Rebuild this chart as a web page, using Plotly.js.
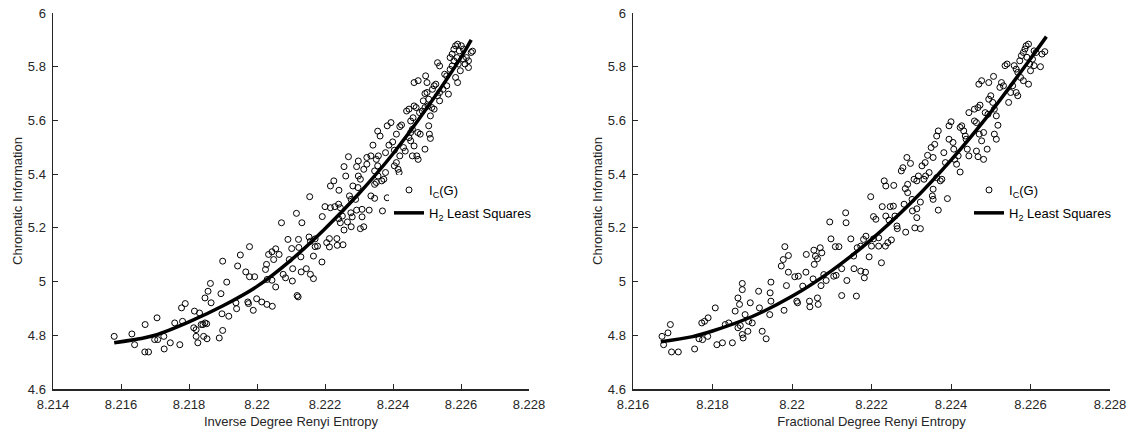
<!DOCTYPE html>
<html>
<head>
<meta charset="utf-8">
<script src="https://cdn.plot.ly/plotly-3.0.1.min.js"></script>
<style>
  html, body { margin: 0; padding: 0; background: #fff; }
  #chart { width: 1130px; height: 432px; }
</style>
</head>
<body>
<div id="chart"></div>
<script>
// ---- Data ----
// Left panel: [Inverse Degree Renyi Entropy, Chromatic Information]
const leftPoints = [
[8.2158,4.796],[8.21632,4.805],[8.2164,4.765],[8.21671,4.84],[8.2167,4.738],[8.21681,4.738],[8.21706,4.865],[8.21699,4.784],
[8.21708,4.784],[8.21726,4.796],[8.21727,4.749],[8.21745,4.772],[8.21758,4.846],[8.21773,4.765],[8.21778,4.902],[8.21789,4.918],
[8.21781,4.852],[8.21816,4.89],[8.21814,4.828],[8.21821,4.821],[8.21826,4.772],[8.21831,4.883],[8.21836,4.84],[8.21841,4.84],
[8.21847,4.846],[8.21852,4.843],[8.21821,4.796],[8.21843,4.796],[8.21853,4.787],[8.21847,4.939],[8.21856,4.964],[8.21863,4.993],
[8.21865,4.921],[8.21889,4.79],[8.21899,4.818],[8.21894,4.955],[8.21899,5.076],[8.21897,4.88],[8.21917,4.871],[8.21911,4.998],
[8.21938,4.921],[8.2194,4.899],[8.21943,5.058],[8.21951,5.099],[8.21967,5.036],[8.21978,5.018],[8.21993,5.018],[8.21978,5.13],
[8.21973,4.924],[8.21975,4.918],[8.21989,4.893],[8.21999,4.936],[8.22014,4.924],[8.22029,4.915],[8.22045,4.908],[8.22028,5.064],
[8.22034,5.101],[8.22044,5.111],[8.22055,5.122],[8.2203,5.008],[8.22044,5.005],[8.22055,4.98],[8.22049,5.082],[8.22065,5.101],
[8.22025,5.045],[8.22072,5.219],[8.22077,5.027],[8.22084,5.014],[8.22091,5.157],[8.22102,5.123],[8.22095,5.082],[8.22105,5.048],
[8.22104,5.002],[8.22116,5.254],[8.22118,4.948],[8.22121,4.943],[8.22122,5.157],[8.22123,5.127],[8.22129,5.092],[8.2213,5.036],
[8.22132,5.219],[8.22145,5.048],[8.22157,5.027],[8.22166,5.011],[8.22155,5.316],[8.22153,5.166],[8.22157,5.15],[8.22171,5.159],
[8.22171,5.13],[8.22178,5.132],[8.22166,5.095],[8.22191,5.073],[8.22192,5.242],[8.222,5.279],[8.22205,5.145],[8.22213,5.129],
[8.22213,5.16],[8.22216,5.356],[8.22226,5.375],[8.22216,5.275],[8.22229,5.279],[8.22236,5.135],[8.22253,5.137],[8.22235,5.16],
[8.2224,5.288],[8.22245,5.275],[8.2224,5.234],[8.22251,5.244],[8.22241,5.34],[8.22245,5.219],[8.22256,5.192],[8.22261,5.393],
[8.22269,5.465],[8.22256,5.428],[8.22266,5.222],[8.22277,5.204],[8.2228,5.241],[8.22276,5.256],[8.22272,5.319],[8.22277,5.306],
[8.22282,5.356],[8.2229,5.306],[8.22297,5.35],[8.22293,5.428],[8.22298,5.449],[8.22298,5.393],[8.22304,5.381],[8.22293,5.266],
[8.22304,5.197],[8.22314,5.204],[8.22309,5.241],[8.22309,5.269],[8.22314,5.418],[8.22323,5.437],[8.22323,5.462],[8.22335,5.468],
[8.2233,5.266],[8.22335,5.319],[8.22346,5.31],[8.22341,5.508],[8.22346,5.362],[8.22351,5.369],[8.22356,5.393],[8.22346,5.412],
[8.22355,5.431],[8.22355,5.56],[8.22362,5.542],[8.22357,5.468],[8.22351,5.455],[8.22369,5.263],[8.22367,5.375],[8.22373,5.381],
[8.22378,5.406],[8.22383,5.312],[8.22383,5.58],[8.22378,5.48],[8.22388,5.508],[8.22399,5.52],[8.22404,5.489],[8.22394,5.592],
[8.22404,5.431],[8.2241,5.443],[8.22415,5.418],[8.22418,5.406],[8.2241,5.549],[8.2242,5.577],[8.22425,5.583],[8.2242,5.468],
[8.22431,5.499],[8.22436,5.486],[8.2244,5.635],[8.22447,5.642],[8.22447,5.536],[8.22452,5.524],[8.22452,5.555],[8.22457,5.567],
[8.22452,5.598],[8.22459,5.61],[8.22462,5.654],[8.22468,5.648],[8.22462,5.741],[8.22474,5.748],[8.22457,5.468],[8.2247,5.468],
[8.22474,5.455],[8.22462,5.505],[8.22473,5.555],[8.2248,5.549],[8.22478,5.629],[8.22486,5.635],[8.22494,5.493],[8.22494,5.7],
[8.225,5.704],[8.22496,5.766],[8.225,5.741],[8.22489,5.673],[8.22505,5.679],[8.22494,5.648],[8.22503,5.654],[8.22505,5.58],
[8.22507,5.549],[8.2251,5.533],[8.2251,5.617],[8.22516,5.716],[8.22521,5.729],[8.22526,5.735],[8.22514,5.648],[8.22521,5.642],
[8.22531,5.692],[8.22537,5.704],[8.22537,5.673],[8.22531,5.815],[8.22537,5.803],[8.22547,5.716],[8.22558,5.729],[8.22552,5.772],
[8.22558,5.766],[8.22563,5.698],[8.22568,5.79],[8.22574,5.803],[8.22579,5.822],[8.22568,5.834],[8.22574,5.847],[8.22579,5.865],
[8.22584,5.878],[8.2259,5.884],[8.22588,5.834],[8.22595,5.859],[8.22584,5.76],[8.2259,5.741],[8.22592,5.81],[8.22598,5.785],
[8.22601,5.878],[8.22607,5.866],[8.22607,5.828],[8.22612,5.81],[8.22616,5.834],[8.22622,5.822],[8.22622,5.797],[8.2263,5.853],
[8.22634,5.858]
];
// Right panel: [Fractional Degree Renyi Entropy, Chromatic Information]
const rightPoints = [
[8.21673,4.796],[8.21677,4.765],[8.21688,4.809],[8.21694,4.84],[8.21697,4.738],[8.21714,4.738],[8.21755,4.749],[8.21766,4.787],
[8.21775,4.784],[8.21773,4.846],[8.2178,4.852],[8.21788,4.796],[8.21789,4.865],[8.21807,4.902],[8.21811,4.765],[8.21825,4.772],
[8.21832,4.84],[8.21841,4.846],[8.2185,4.772],[8.21857,4.89],[8.21864,4.939],[8.21868,4.915],[8.21864,4.828],[8.2187,4.836],
[8.21875,4.993],[8.21875,4.97],[8.21875,4.803],[8.21877,4.79],[8.21882,4.877],[8.21891,4.852],[8.21889,4.815],[8.21895,4.921],
[8.219,4.846],[8.21916,4.964],[8.21918,4.902],[8.21925,4.815],[8.21935,4.787],[8.21944,4.877],[8.21945,4.958],[8.21947,4.927],
[8.21947,4.998],[8.21973,5.058],[8.21978,5.082],[8.21982,5.13],[8.21991,5.097],[8.2198,4.893],[8.21986,4.985],[8.21991,5.035],
[8.22007,5.018],[8.22016,5.02],[8.22012,4.927],[8.22014,4.921],[8.22027,4.983],[8.22035,5.035],[8.22036,5.101],[8.22044,4.927],
[8.22045,4.906],[8.22053,5.01],[8.22055,5.117],[8.22059,5.095],[8.22064,5.085],[8.22056,5.064],[8.22064,4.939],[8.22066,4.915],
[8.22071,5.126],[8.22075,5.107],[8.22073,4.985],[8.2208,5.026],[8.22086,5.004],[8.22095,5.222],[8.22098,5.159],[8.22105,5.02],
[8.22111,5.023],[8.22109,5.13],[8.22118,5.13],[8.22125,4.948],[8.22125,5.048],[8.22135,5.256],[8.22136,5.219],[8.22138,5.004],
[8.22148,5.159],[8.22155,5.095],[8.22156,5.048],[8.22162,4.946],[8.22164,5.126],[8.22173,5.132],[8.2218,5.157],[8.22186,5.169],
[8.22173,5.039],[8.22182,5.014],[8.22185,5.035],[8.22194,5.092],[8.22198,5.316],[8.222,5.132],[8.22205,5.159],[8.22205,5.242],
[8.22211,5.232],[8.22218,5.163],[8.22218,5.132],[8.22225,5.07],[8.22227,5.279],[8.22232,5.375],[8.22236,5.356],[8.22235,5.132],
[8.22241,5.145],[8.2225,5.155],[8.22236,5.244],[8.22244,5.229],[8.22247,5.279],[8.22255,5.281],[8.22256,5.358],[8.22259,5.244],
[8.22264,5.207],[8.22265,5.197],[8.22275,5.412],[8.22279,5.424],[8.22282,5.288],[8.22285,5.346],[8.22291,5.362],[8.22289,5.462],
[8.22286,5.184],[8.22291,5.331],[8.22298,5.44],[8.22302,5.306],[8.22303,5.263],[8.22314,5.271],[8.22307,5.381],[8.22314,5.375],
[8.22318,5.393],[8.22314,5.238],[8.22309,5.2],[8.22323,5.197],[8.22323,5.296],[8.22327,5.431],[8.22335,5.443],[8.22332,5.381],
[8.22336,5.393],[8.22345,5.406],[8.22341,5.47],[8.22355,5.462],[8.2235,5.499],[8.22355,5.344],[8.22353,5.319],[8.22355,5.306],
[8.22359,5.511],[8.22364,5.542],[8.22368,5.561],[8.22364,5.387],[8.22373,5.375],[8.22377,5.381],[8.22368,5.266],[8.22382,5.48],
[8.22386,5.443],[8.22391,5.309],[8.22395,5.58],[8.224,5.595],[8.22395,5.53],[8.22405,5.518],[8.22407,5.493],[8.22409,5.455],
[8.22414,5.437],[8.22423,5.408],[8.22418,5.468],[8.22423,5.574],[8.22427,5.58],[8.22432,5.561],[8.22436,5.542],[8.22438,5.53],
[8.22441,5.493],[8.22445,5.468],[8.22445,5.629],[8.22459,5.642],[8.22459,5.598],[8.22464,5.592],[8.22464,5.486],[8.22468,5.465],
[8.22468,5.648],[8.22473,5.657],[8.2247,5.735],[8.22477,5.748],[8.22471,5.549],[8.22477,5.524],[8.22482,5.555],[8.22482,5.455],
[8.22486,5.629],[8.22493,5.623],[8.22491,5.493],[8.22495,5.679],[8.225,5.692],[8.22505,5.667],[8.22495,5.741],[8.22507,5.764],
[8.22509,5.549],[8.22514,5.53],[8.22509,5.642],[8.22514,5.617],[8.22518,5.582],[8.22523,5.723],[8.22527,5.741],[8.22532,5.729],
[8.22536,5.804],[8.22541,5.81],[8.22545,5.667],[8.2255,5.704],[8.22555,5.729],[8.22559,5.804],[8.22564,5.791],[8.22568,5.779],
[8.22564,5.704],[8.22568,5.692],[8.22573,5.822],[8.22577,5.841],[8.22582,5.853],[8.22586,5.866],[8.22575,5.76],[8.22582,5.748],
[8.22589,5.878],[8.22595,5.884],[8.22591,5.835],[8.22598,5.81],[8.22605,5.828],[8.22595,5.735],[8.226,5.785],[8.22609,5.804],
[8.22609,5.859],[8.22614,5.853],[8.22625,5.8],[8.22629,5.847],[8.22636,5.856]
];
// Least-squares fit curves
const leftFitX  = [8.2158, 8.2165, 8.217, 8.218, 8.219, 8.22, 8.221, 8.222, 8.223, 8.224, 8.225, 8.226, 8.2263];
const leftFitY  = [4.772, 4.786, 4.80, 4.85, 4.91, 4.982, 5.08, 5.197, 5.328, 5.476, 5.647, 5.835, 5.90];
const rightFitX = [8.2167, 8.2175, 8.218, 8.219, 8.22, 8.221, 8.222, 8.223, 8.224, 8.225, 8.226, 8.2264];
const rightFitY = [4.776, 4.795, 4.816, 4.87, 4.945, 5.041, 5.157, 5.294, 5.452, 5.631, 5.83, 5.912];

const xTitles = ['Inverse Degree Renyi Entropy', 'Fractional Degree Renyi Entropy'];
const yTitle = 'Chromatic Information';
const scatterName = 'I<sub>C</sub>(G)';
const fitName = 'H<sub>2</sub> Least Squares';

// ---- Chart ----
const FONT = '"Liberation Sans", Arial, Helvetica, sans-serif';
const AX = '#262626';
const FS = 13;

function scatterTrace(pts, xa, ya, leg) {
  return {
    type: 'scatter', mode: 'markers',
    x: pts.map(p => p[0]), y: pts.map(p => p[1]),
    xaxis: xa, yaxis: ya, legend: leg, legendgroup: leg + 'a',
    name: scatterName,
    marker: { symbol: 'circle-open', size: 6, color: '#000', line: { width: 1, color: '#000' } },
    hoverinfo: 'skip'
  };
}
function fitTrace(xs, ys, xa, ya, leg) {
  return {
    type: 'scatter', mode: 'lines',
    x: xs, y: ys, xaxis: xa, yaxis: ya, legend: leg, legendgroup: leg + 'b',
    name: fitName,
    line: { color: '#000', width: 3.5, shape: 'spline', smoothing: 1 },
    hoverinfo: 'skip'
  };
}

const data = [
  scatterTrace(leftPoints, 'x', 'y', 'legend'),
  fitTrace(leftFitX, leftFitY, 'x', 'y', 'legend'),
  scatterTrace(rightPoints, 'x2', 'y2', 'legend2'),
  fitTrace(rightFitX, rightFitY, 'x2', 'y2', 'legend2')
];

function axisBase(standoff) {
  return {
    showline: true, linecolor: AX, linewidth: 1.5, mirror: false,
    ticks: 'inside', ticklen: 5, tickwidth: 1, tickcolor: AX,
    ticklabelstandoff: standoff,
    showgrid: false, zeroline: false, automargin: false, fixedrange: true,
    tickfont: { family: FONT, size: FS, color: AX }
  };
}
const yDom = [1 - 389 / 432, 1 - 13 / 432];
const titleFont = { family: FONT, size: FS, color: AX };

const legendBase = {
  xanchor: 'left', yanchor: 'top', bgcolor: '#fff', borderwidth: 0,
  font: { family: FONT, size: FS, color: '#000' },
  traceorder: 'grouped', tracegroupgap: 3
};

const layout = {
  width: 1130, height: 432,
  margin: { l: 0, r: 0, t: 0, b: 0, pad: 0 },
  paper_bgcolor: '#fff', plot_bgcolor: '#fff',
  font: { family: FONT, size: FS, color: AX },
  showlegend: true,
  xaxis: Object.assign(axisBase(3), {
    domain: [53 / 1130, 529 / 1130], range: [8.214, 8.228], tick0: 8.214, dtick: 0.002, anchor: 'y',
    title: { text: xTitles[0], font: titleFont, standoff: 6 }
  }),
  yaxis: Object.assign(axisBase(3), {
    domain: yDom, range: [4.6, 6], tick0: 4.6, dtick: 0.2, anchor: 'x',
    title: { text: yTitle, font: titleFont, standoff: 2 }
  }),
  xaxis2: Object.assign(axisBase(3), {
    domain: [633 / 1130, 1110 / 1130], range: [8.216, 8.228], tick0: 8.216, dtick: 0.002, anchor: 'y2',
    title: { text: xTitles[1], font: titleFont, standoff: 6 }
  }),
  yaxis2: Object.assign(axisBase(3), {
    domain: yDom, range: [4.6, 6], tick0: 4.6, dtick: 0.2, anchor: 'x2',
    title: { text: yTitle, font: titleFont, standoff: 2 }
  }),
  legend: Object.assign({}, legendBase, { x: 389 / 1130, y: 1 - 175 / 432 }),
  legend2: Object.assign({}, legendBase, { x: 969 / 1130, y: 1 - 175 / 432 })
};

Plotly.newPlot('chart', data, layout, { staticPlot: true, displayModeBar: false });
</script>
</body>
</html>
